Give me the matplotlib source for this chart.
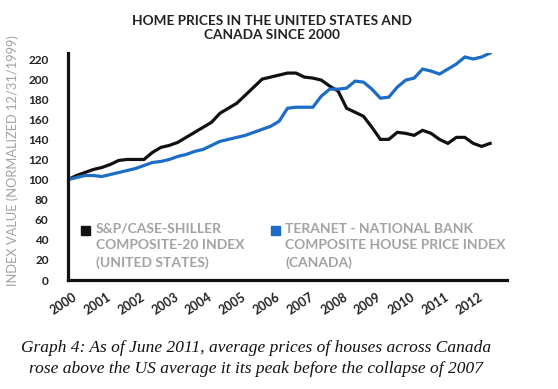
import numpy as np
import matplotlib
matplotlib.use("Agg")
import matplotlib.pyplot as plt
from matplotlib.patches import Rectangle
from matplotlib.transforms import ScaledTranslation

# =========================
# DATA (quarterly)
# =========================
years = np.arange(2000, 2012.51, 0.25)

us_index = [100, 104, 107, 110, 112, 115, 119, 120, 120, 120,
            127, 132, 134, 137, 142, 147, 152, 157, 166, 171,
            176, 184, 192, 200, 202, 204, 206, 206, 202, 201,
            199, 193, 188, 171, 167, 163, 152, 140, 140, 147,
            146, 144, 149, 146, 140, 136, 142, 142, 136, 133,
            136]

canada_index = [100, 102, 104, 104, 103, 105, 107, 109, 111, 114,
                117, 118, 120, 123, 125, 128, 130, 134, 138, 140,
                142, 144, 147, 150, 153, 158, 171, 172, 172, 172,
                183, 190, 190, 191, 198, 197, 190, 181, 182, 192,
                199, 201, 210, 208, 205, 210, 215, 222, 220, 222,
                226]

tick_years = list(range(2000, 2013))
y_ticks = list(range(0, 221, 20))

title = "HOME PRICES IN THE UNITED STATES AND\nCANADA SINCE 2000"
ylabel = "INDEX VALUE (NORMALIZED 12/31/1999)"
us_label = "S&P/CASE-SHILLER\nCOMPOSITE-20 INDEX\n(UNITED STATES)"
ca_label = "TERANET - NATIONAL BANK\nCOMPOSITE HOUSE PRICE INDEX\n(CANADA)"
caption = ("Graph 4: As of June 2011, average prices of houses across Canada\n"
           "rose above the US average it its peak before the collapse of 2007")

BLUE = "#1c6cc8"
GRAY = "#a3a3a3"

# =========================
# FIGURE
# =========================
plt.rcParams["font.family"] = ["Lato", "DejaVu Sans"]

fig = plt.figure(figsize=(5.58, 3.89), dpi=100)
ax = fig.add_axes([0.1219, 0.2802, 0.7867, 0.5836])

ax.plot(years, us_index, color="#111111", lw=2.3, solid_joinstyle="miter")
ax.plot(years, canada_index, color=BLUE, lw=2.3, solid_joinstyle="miter")

ax.set_xlim(2000, 2013)
ax.set_ylim(0, 226)

ax.set_xticks(tick_years)
ax.set_yticks(y_ticks)
ax.tick_params(axis="both", length=0)
ax.tick_params(axis="y", pad=14, labelsize=8.5, labelcolor="#222222")
ax.tick_params(axis="x", pad=8, labelsize=9, labelcolor="#222222",
               labelrotation=33)

# nudge the x labels a little to the left, like the original
shift = ScaledTranslation(-4 / 100, 0, fig.dpi_scale_trans)
for lab in ax.get_xticklabels():
    lab.set_fontweight("bold")
    lab.set_horizontalalignment("center")
    lab.set_transform(lab.get_transform() + shift)
for lab in ax.get_yticklabels():
    lab.set_fontweight("bold")

for side in ["top", "right"]:
    ax.spines[side].set_visible(False)
for side in ["left", "bottom"]:
    ax.spines[side].set_linewidth(2.3)
    ax.spines[side].set_color("#111111")

# title and y label
fig.text(0.487, 0.962, title, ha="center", va="top", fontsize=9.8,
         fontweight="bold", color="#222222", linespacing=1.25)
fig.text(0.022, 0.586, ylabel, rotation=90, ha="center", va="center",
         fontsize=9.3, color=GRAY)

# legend (manual)
fig.patches.append(Rectangle((0.1445, 0.396), 0.016, 0.024,
                             transform=fig.transFigure, color="#111111"))
fig.text(0.172, 0.427, us_label, ha="left", va="top", fontsize=10,
         fontweight="bold", color=GRAY, linespacing=1.45)
fig.patches.append(Rectangle((0.485, 0.396), 0.016, 0.024,
                             transform=fig.transFigure, color=BLUE))
fig.text(0.511, 0.427, ca_label, ha="left", va="top", fontsize=10,
         fontweight="bold", color=GRAY, linespacing=1.45)

# caption
fig.text(0.459, 0.078, caption, ha="center", va="center", fontsize=12.5,
         style="italic", family="Liberation Serif", color="#111111",
         linespacing=1.4)

plt.savefig("out.png", dpi=100)
